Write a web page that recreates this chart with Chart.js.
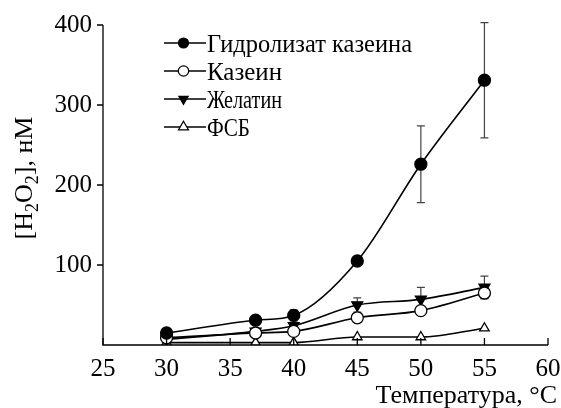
<!DOCTYPE html>
<html>
<head>
<meta charset="utf-8">
<script src="https://cdn.jsdelivr.net/npm/chart.js@4/dist/chart.umd.min.js"></script>
<style>
  html, body { margin: 0; padding: 0; background: #fff; }
  #wrap { width: 561px; height: 408px; position: relative; }
</style>
</head>
<body>
<div id="wrap"><canvas id="c" width="561" height="408"></canvas></div>
<script>
// Temperature, °C
const temperatures = [30, 37, 40, 45, 50, 55];

// H2O2 concentration, nM
const hydrolysate = [15, 31, 37, 105, 226, 331];
const hydrolysateErr = [0, 0, 7, 0, 48, 72];
const casein = [9, 15, 17, 34, 43, 65];
const caseinErr = [0, 0, 0, 0, 0, 7];
const gelatin = [7, 17, 24, 50, 57, 72];
const gelatinErr = [0, 0, 0, 9, 15, 14];
const pbs = [3, 3, 3, 10, 10, 21];
const pbsErr = [0, 0, 0, 0, 0, 0];

const seriesNames = ['Гидролизат казеина', 'Казеин', 'Желатин', 'ФСБ'];
const xTicks = [25, 30, 35, 40, 45, 50, 55, 60];
const yTicks = [100, 200, 300, 400];

const FONT = '"Liberation Serif", "Times New Roman", serif';

function pts(values) {
  return temperatures.map((t, i) => ({ x: t, y: values[i] }));
}

const styles = [
  { pointStyle: 'circle', fill: '#000', radius: 6, rotation: 0, legendRadius: 5, textWidth: 205 },
  { pointStyle: 'circle', fill: '#fff', radius: 6, rotation: 0, legendRadius: 5.2, textWidth: 75 },
  { pointStyle: 'triangle', fill: '#000', radius: 6.3, rotation: 180, legendRadius: 5.4, textWidth: 75 },
  { pointStyle: 'triangle', fill: '#fff', radius: 5.5, rotation: 0, legendRadius: 5.8, textWidth: 43 }
];
const seriesData = [hydrolysate, casein, gelatin, pbs];
const seriesErr = [hydrolysateErr, caseinErr, gelatinErr, pbsErr];

const datasets = seriesData.map((vals, k) => ({
  label: seriesNames[k],
  data: pts(vals),
  borderColor: '#000',
  borderWidth: 1.6,
  backgroundColor: styles[k].fill,
  pointBackgroundColor: styles[k].fill,
  pointBorderColor: '#000',
  pointBorderWidth: 1.3,
  pointStyle: styles[k].pointStyle,
  pointRotation: styles[k].rotation,
  pointRadius: styles[k].radius,
  cubicInterpolationMode: 'monotone',
  fill: false,
  order: k
}));

// Error bars, axes decorations, titles and legend
const decorations = {
  id: 'decorations',
  beforeDatasetsDraw(chart) {
    const ctx = chart.ctx;
    const xs = chart.scales.x, ys = chart.scales.y;
    ctx.save();
    ctx.strokeStyle = '#444';
    ctx.lineWidth = 1.2;
    seriesErr.forEach((errs, k) => {
      errs.forEach((e, i) => {
        if (!e) return;
        const x = xs.getPixelForValue(temperatures[i]);
        const y1 = ys.getPixelForValue(seriesData[k][i] + e);
        const y2 = ys.getPixelForValue(seriesData[k][i] - e);
        ctx.beginPath();
        ctx.moveTo(x, y1); ctx.lineTo(x, y2);
        ctx.moveTo(x - 4, y1); ctx.lineTo(x + 4, y1);
        ctx.moveTo(x - 4, y2); ctx.lineTo(x + 4, y2);
        ctx.stroke();
      });
    });
    ctx.restore();
  },
  afterDraw(chart) {
    const ctx = chart.ctx;
    const xs = chart.scales.x, ys = chart.scales.y;
    const a = chart.chartArea;
    ctx.save();
    ctx.strokeStyle = '#000';
    ctx.lineWidth = 1.3;
    // axis lines
    ctx.beginPath();
    ctx.moveTo(a.left, a.top); ctx.lineTo(a.left, a.bottom); ctx.lineTo(a.right, a.bottom);
    ctx.stroke();
    // x ticks pointing inward
    ctx.beginPath();
    xTicks.forEach(v => {
      const x = xs.getPixelForValue(v);
      ctx.moveTo(x, a.bottom); ctx.lineTo(x, a.bottom - 7);
    });
    // y ticks pointing outward
    yTicks.forEach(v => {
      const y = ys.getPixelForValue(v);
      ctx.moveTo(a.left, y); ctx.lineTo(a.left - 6, y);
    });
    ctx.stroke();

    // x title
    ctx.fillStyle = '#000';
    ctx.font = '26px ' + FONT;
    ctx.textAlign = 'right';
    ctx.textBaseline = 'alphabetic';
    ctx.fillText('Температура, °C', 557, 403);

    // y title with subscripts
    ctx.save();
    ctx.translate(32, 178);
    ctx.rotate(-Math.PI / 2);
    const parts = [['[H', 0], ['2', 1], ['O', 0], ['2', 1], ['], нМ', 0]];
    const big = '26px ' + FONT, small = '18px ' + FONT;
    let w = 0;
    parts.forEach(p => { ctx.font = p[1] ? small : big; w += ctx.measureText(p[0]).width; });
    let x = -w / 2;
    ctx.textAlign = 'left';
    parts.forEach(p => {
      ctx.font = p[1] ? small : big;
      ctx.fillText(p[0], x, p[1] ? 6 : 0);
      x += ctx.measureText(p[0]).width;
    });
    ctx.restore();

    // legend
    const rows = [43, 71, 99, 127];
    ctx.font = '26px ' + FONT;
    ctx.textAlign = 'left';
    ctx.textBaseline = 'alphabetic';
    seriesNames.forEach((name, k) => {
      const y = rows[k];
      ctx.strokeStyle = '#000';
      ctx.lineWidth = 1.6;
      ctx.beginPath();
      ctx.moveTo(164, y); ctx.lineTo(206, y);
      ctx.stroke();
      ctx.fillStyle = styles[k].fill;
      ctx.lineWidth = 1.2;
      Chart.helpers.drawPoint(ctx, {
        pointStyle: styles[k].pointStyle,
        radius: styles[k].legendRadius,
        rotation: styles[k].rotation,
        borderWidth: 1.2
      }, 183.5, y);
      ctx.fillStyle = '#000';
      const mw = ctx.measureText(name).width;
      ctx.save();
      ctx.translate(207, y + 8.5);
      ctx.scale(styles[k].textWidth / mw, 1);
      ctx.fillText(name, 0, 0);
      ctx.restore();
    });
    ctx.restore();
  }
};

new Chart(document.getElementById('c'), {
  type: 'line',
  data: { datasets },
  options: {
    responsive: false,
    animation: false,
    layout: { padding: { left: 0, right: 13, top: 25, bottom: 0 } },
    plugins: { legend: { display: false }, tooltip: { enabled: false } },
    scales: {
      x: {
        type: 'linear',
        min: 25, max: 60,
        border: { display: false },
        grid: { display: false, drawTicks: false },
        afterBuildTicks: s => { s.ticks = xTicks.map(v => ({ value: v })); },
        afterFit: s => { s.height = 63; s.paddingLeft = 0; s.paddingRight = 0; },
        ticks: {
          padding: 9,
          color: '#000',
          maxRotation: 0,
          font: { family: FONT, size: 25 },
          callback: v => String(v)
        }
      },
      y: {
        min: 0, max: 400,
        border: { display: false },
        grid: { display: false, drawTicks: false },
        afterBuildTicks: s => { s.ticks = yTicks.map(v => ({ value: v })); },
        afterFit: s => { s.width = 103; s.paddingTop = 0; s.paddingBottom = 0; },
        ticks: {
          padding: 11,
          color: '#000',
          font: { family: FONT, size: 25 },
          callback: v => String(v)
        }
      }
    }
  },
  plugins: [decorations]
});
</script>
</body>
</html>
